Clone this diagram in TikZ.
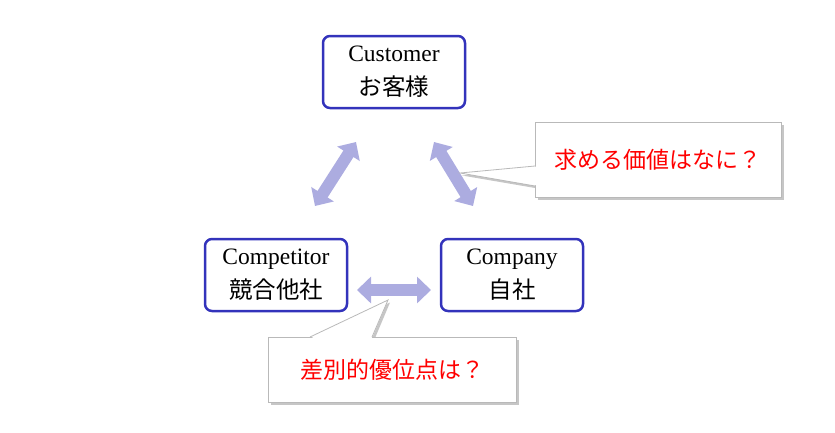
\documentclass[tikz,border=0pt]{standalone}
\usepackage{fontspec}
\setmainfont{Liberation Serif}
\newfontfamily\jpfont{Noto Sans CJK JP}
\usetikzlibrary{arrows.meta,shadows}
\definecolor{boxblue}{RGB}{51,51,187}
\definecolor{linklav}{RGB}{172,172,224}
\definecolor{askred}{RGB}{255,0,0}
\definecolor{bordergray}{RGB}{185,185,185}

\begin{document}
\begin{tikzpicture}[
    x=1pt, y=-1pt,
    party/.style={rectangle, draw=boxblue, line width=2.5pt, fill=white, rounded corners=7pt, minimum width=142pt, minimum height=72pt, align=center, font=\fontsize{23.5}{34}\selectfont},
    link/.style={draw=linklav, line width=12pt, {Triangle[width=26pt,length=14pt]}-{Triangle[width=26pt,length=14pt]}},
    bubble/.style={rectangle, draw=bordergray, line width=0.8pt, fill=white, drop shadow={shadow xshift=2.5pt, shadow yshift=-2.5pt, opacity=0.45, fill=gray}, font=\jpfont\fontsize{23}{27}\selectfont, text=askred},
    pointer/.style={fill=white, drop shadow={shadow xshift=2pt, shadow yshift=-2.5pt, opacity=0.45, fill=gray}}
]
\useasboundingbox (0,0) rectangle (835,432);

% The three parties
\node[party] (customer) at (394,72) {Customer\\{\jpfont お客様}};
\node[party] (competitor) at (276,275) {Competitor\\{\jpfont 競合他社}};
\node[party] (company) at (512,275) {Company\\{\jpfont 自社}};

% Arrow ends
\coordinate (cu-left) at (356,142);
\coordinate (cm-top) at (315,206);
\coordinate (cu-right) at (434,142);
\coordinate (co-top) at (473,206);
\coordinate (cm-right) at (357,290);
\coordinate (co-left) at (431,290);

% Links
\draw[link] (cm-top) -- (cu-left);
\draw[link] (cu-right) -- (co-top);
\draw[link] (cm-right) -- (co-left);

% Question about the customer
\coordinate (value tip) at (460,173);
\path[pointer] (536,166) -- (value tip) -- (536,186) -- cycle;
\node[bubble, minimum width=246pt, minimum height=75pt] (value) at (658,159.5) {求める価値はなに？};
\fill[white] (537.5,166.5) -- (value tip) -- (537.5,185.5) -- cycle;
\draw[bordergray, line width=0.8pt] (535,166) -- (value tip) -- (535,186);

% Question about the competitor
\coordinate (edge tip) at (388,300);
\path[pointer] (310,338) -- (edge tip) -- (372,338) -- cycle;
\node[bubble, minimum width=248pt, minimum height=65pt] (edge) at (392,369.5) {差別的優位点は？};
\fill[white] (310.5,338.5) -- (edge tip) -- (371.5,338.5) -- cycle;
\draw[bordergray, line width=0.8pt] (310,337) -- (edge tip) -- (372,337);

\end{tikzpicture}
\end{document}
